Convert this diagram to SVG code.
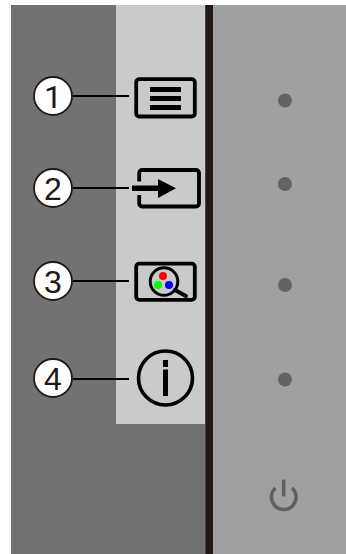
<svg xmlns="http://www.w3.org/2000/svg" width="346" height="554" viewBox="0 0 346 554">
<style>
.ic{fill:none;stroke:#000;stroke-width:3.8;stroke-linejoin:round}
.num{fill:#fff;stroke:#231815;stroke-width:1.8}
.t{font-family:"Liberation Sans",Arial,sans-serif;font-size:32px;fill:#231815;text-anchor:middle}
.ln{stroke:#000;stroke-width:2;fill:none}
.led{fill:#636363}
</style>
<rect width="346" height="554" fill="#fff"/>
<g id="panel">
<rect x="11" y="5" width="195" height="549" fill="#727272"/>
<rect x="116" y="5" width="89" height="419" fill="#c9cbca"/>
<rect x="213" y="5" width="133" height="549" fill="#9fa1a0"/>
<rect x="205.500" y="5" width="7.500" height="549" fill="#231815"/>
</g>
<g id="connectors">
<path class="ln" d="M73 96H129M73 188H129M73 281H129M73 379H129"/>
</g>
<g id="callout-1"><circle class="num" cx="53" cy="96" r="19"/><text class="t" x="53" y="107.500" style="font-family:Roboto,sans-serif">1</text></g>
<g id="callout-2"><circle class="num" cx="53" cy="188" r="19"/><text class="t" x="53" y="199.500">2</text></g>
<g id="callout-3"><circle class="num" cx="53" cy="281" r="19"/><text class="t" x="53" y="292.500">3</text></g>
<g id="callout-4"><circle class="num" cx="53" cy="378" r="19"/><text class="t" x="53" y="389.500">4</text></g>
<g id="icon-menu">
<rect class="ic" x="136.200" y="79.200" width="58.600" height="37.300" rx="3"/>
<path d="M150 87h31v5h-31zM150 96h31v5h-31zM150 105h31v5h-31z"/>
</g>
<g id="icon-input">
<path class="ic" d="M139.200 181.500V173a3 3 0 0 1 3-3H196a3 3 0 0 1 3 3V203.500a3 3 0 0 1-3 3H142.200a3 3 0 0 1-3-3V195"/>
<path d="M132 185.500H158V179L176 188.300L158 198V191H132z"/>
</g>
<g id="icon-color">
<rect class="ic" x="136.200" y="263.600" width="58.600" height="36.200" rx="3"/>
<circle cx="164" cy="281.500" r="13.800" fill="none" stroke="#000" stroke-width="3"/>
<path d="M175 290L186 296" stroke="#000" stroke-width="4" stroke-linecap="round" fill="none"/>
<circle cx="163" cy="276" r="4" fill="#f00"/>
<circle cx="158" cy="285" r="4" fill="#0f0"/>
<circle cx="169" cy="285" r="4" fill="#00f"/>
</g>
<g id="icon-info">
<circle cx="165.500" cy="378" r="27" fill="none" stroke="#000" stroke-width="3.600"/>
<rect x="163" y="360" width="5" height="7"/>
<rect x="163" y="369.500" width="5" height="26.500"/>
</g>
<g id="leds">
<circle class="led" cx="285" cy="100.500" r="7"/>
<circle class="led" cx="285" cy="184" r="7"/>
<circle class="led" cx="285" cy="285" r="7"/>
<circle class="led" cx="285" cy="379.500" r="7"/>
</g>
<g id="power" fill="none" stroke="#5f5f5f" stroke-width="3.500">
<path d="M275.500 488A12.300 12.300 0 1 0 292 488"/>
<path d="M283.700 481V495" stroke-linecap="round"/>
</g>
</svg>
